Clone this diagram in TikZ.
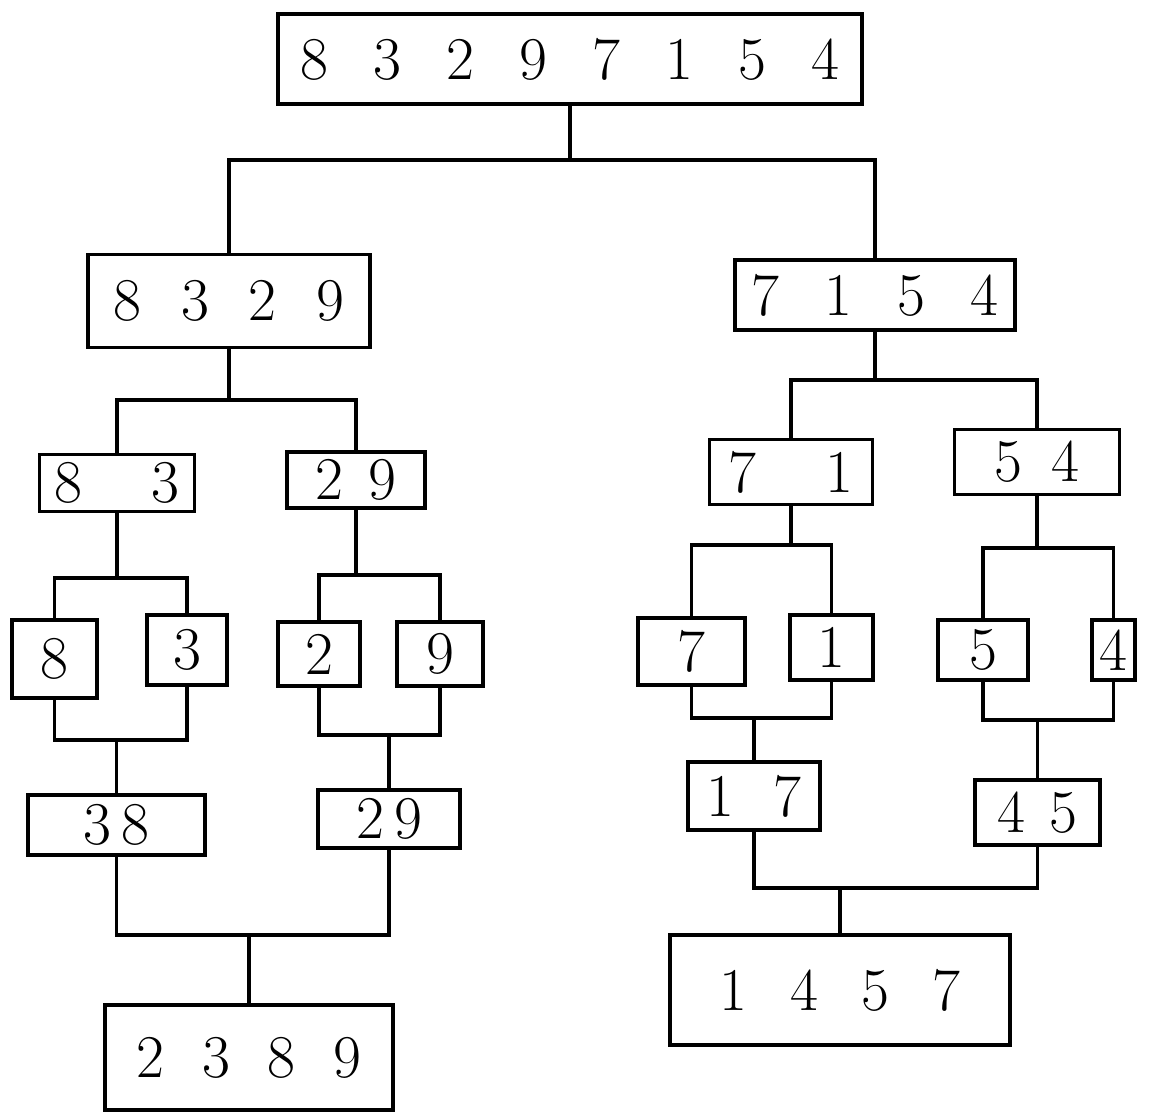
\documentclass[tikz,border=0pt]{standalone}
\tikzset{
  box/.style={draw, line width=1pt, font=\LARGE, inner sep=0pt},
  link/.style={line width=1pt},
}
\newcommand{\gap}{\hspace{4.5mm}}
\begin{document}
\begin{tikzpicture}[x=1cm,y=1cm]
\useasboundingbox (0,0) rectangle (11.59,-11.17);
% splitting
\node[box, minimum width=5.84cm, minimum height=0.90cm] (root) at (5.70,-0.59) {8\gap 3\gap 2\gap 9\gap 7\gap 1\gap 5\gap 4};
\node[box, minimum width=2.82cm, minimum height=0.93cm] (a) at (2.29,-3.01) {8\hspace{4mm}3\hspace{4mm}2\hspace{4mm}9};
\node[box, minimum width=2.80cm, minimum height=0.70cm] (b) at (8.75,-2.95) {7\gap 1\gap 5\gap 4};
\node[box, minimum width=1.55cm, minimum height=0.57cm] (aa) at (1.17,-4.83) {8\hspace{7mm}3};
\node[box, minimum width=1.38cm, minimum height=0.56cm] (ab) at (3.56,-4.80) {2\hspace{2.5mm}9};
\node[box, minimum width=1.63cm, minimum height=0.65cm] (ba) at (7.91,-4.72) {7\hspace{7mm}1};
\node[box, minimum width=1.65cm, minimum height=0.65cm] (bb) at (10.37,-4.62) {5\hspace{3mm}4};
\node[box, minimum width=0.85cm, minimum height=0.78cm] (l8) at (0.545,-6.59) {8};
\node[box, minimum width=0.80cm, minimum height=0.70cm] (l3) at (1.87,-6.50) {3};
\node[box, minimum width=0.82cm, minimum height=0.64cm] (l2) at (3.19,-6.54) {2};
\node[box, minimum width=0.86cm, minimum height=0.64cm] (l9) at (4.40,-6.54) {9};
\node[box, minimum width=1.07cm, minimum height=0.67cm] (l7) at (6.915,-6.515) {7};
\node[box, minimum width=0.83cm, minimum height=0.65cm] (l1) at (8.315,-6.475) {1};
\node[box, minimum width=0.90cm, minimum height=0.60cm] (l5) at (9.83,-6.50) {5};
\node[box, minimum width=0.43cm, minimum height=0.60cm] (l4) at (11.135,-6.50) {4};
% merging
\node[box, minimum width=1.77cm, minimum height=0.60cm] (m38) at (1.165,-8.25) {3\,8};
\node[box, minimum width=1.42cm, minimum height=0.58cm] (m29) at (3.89,-8.19) {2\,9};
\node[box, minimum width=1.32cm, minimum height=0.68cm] (m17) at (7.54,-7.96) {1\hspace{4mm}7};
\node[box, minimum width=1.25cm, minimum height=0.65cm] (m45) at (10.375,-8.125) {4\hspace{2.5mm}5};
\node[box, minimum width=2.88cm, minimum height=1.05cm] (f1) at (2.49,-10.575) {2\hspace{3.8mm}3\hspace{3.8mm}8\hspace{3.8mm}9};
\node[box, minimum width=3.40cm, minimum height=1.10cm] (f2) at (8.40,-9.90) {1\hspace{4.3mm}4\hspace{4.3mm}5\hspace{4.3mm}7};
% fork points
\coordinate (s0) at (5.70,-1.60);
\coordinate (sa) at (2.29,-4.00);
\coordinate (sb) at (8.75,-3.80);
\coordinate (saa) at (1.17,-5.78);
\coordinate (sab) at (3.56,-5.75);
\coordinate (sba) at (7.91,-5.45);
\coordinate (sbb) at (10.37,-5.48);
\coordinate (j38) at (1.165,-7.40);
\coordinate (j29) at (3.89,-7.35);
\coordinate (j17) at (7.54,-7.18);
\coordinate (j45) at (10.375,-7.20);
\coordinate (jf1) at (2.49,-9.35);
\coordinate (jf2) at (8.40,-8.88);
\draw[link] (root.south) -- (s0);
\draw[link] (a.north) |- (s0) -| (b.north);
\draw[link] (a.south) -- (sa);
\draw[link] (aa.north) |- (sa) -| (ab.north);
\draw[link] (b.south) -- (sb);
\draw[link] (ba.north) |- (sb) -| (bb.north);
\draw[link] (aa.south) -- (saa);
\draw[link] (l8.north) |- (saa) -| (l3.north);
\draw[link] (ab.south) -- (sab);
\draw[link] (l2.north) |- (sab) -| (l9.north);
\draw[link] (ba.south) -- (sba);
\draw[link] (l7.north) |- (sba) -| (l1.north);
\draw[link] (bb.south) -- (sbb);
\draw[link] (l5.north) |- (sbb) -| (l4.north);
\draw[link] (l8.south) |- (j38) -| (l3.south);
\draw[link] (j38) -- (m38.north);
\draw[link] (l2.south) |- (j29) -| (l9.south);
\draw[link] (j29) -- (m29.north);
\draw[link] (l7.south) |- (j17) -| (l1.south);
\draw[link] (j17) -- (m17.north);
\draw[link] (l5.south) |- (j45) -| (l4.south);
\draw[link] (j45) -- (m45.north);
\draw[link] (m38.south) |- (jf1) -| (m29.south);
\draw[link] (jf1) -- (f1.north);
\draw[link] (m17.south) |- (jf2) -| (m45.south);
\draw[link] (jf2) -- (f2.north);
\end{tikzpicture}
\end{document}
